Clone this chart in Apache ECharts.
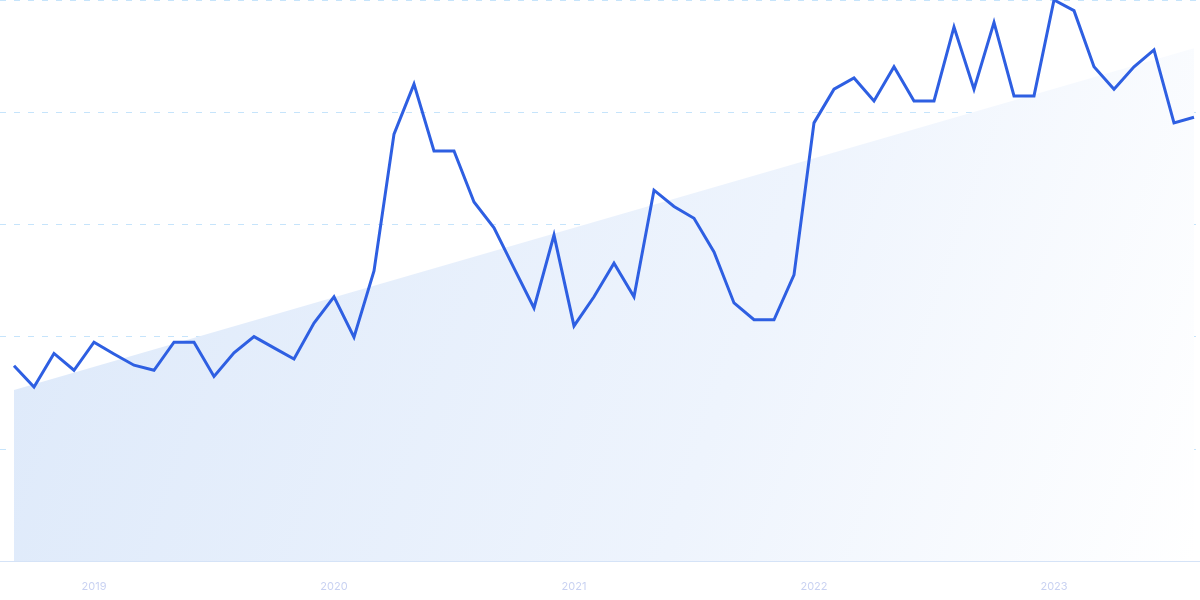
<!DOCTYPE html>
<html>
<head>
<meta charset="utf-8">
<script src="https://cdn.jsdelivr.net/npm/echarts@6/dist/echarts.min.js"></script>
<style>
html,body{margin:0;padding:0;background:#fff;}
#chart{width:1200px;height:600px;}
</style>
</head>
<body>
<div id="chart"></div>
<script>
// Monthly index values, Sep 2018 .. Aug 2023
const values = [
  34.8, 31.0, 37.0, 34.0, 39.0, 36.9, 34.9, 34.0, 39.0, 39.0,
  32.9, 37.1, 40.0, 38.0, 36.0, 42.4, 47.1, 39.9, 51.7, 76.1,
  85.0, 73.1, 73.1, 64.0, 59.4, 52.2, 45.1, 58.1, 41.9, 47.1,
  53.1, 47.1, 66.1, 63.2, 61.1, 55.1, 46.0, 43.0, 43.0, 51.0,
  78.1, 84.1, 86.1, 82.0, 88.1, 82.0, 82.0, 95.2, 84.1, 96.0,
  82.9, 82.9, 100.0, 98.1, 88.1, 84.1, 88.1, 91.1, 78.1, 79.1
];
// Trend line endpoints (first and last month)
const trendValues = [30.5, 91.4];
// Year tick labels and their month index
const yearLabels = ['2019', '2020', '2021', '2022', '2023'];
const yearIndex = [4, 16, 28, 40, 52];

const lineData = values.map((v, i) => [i, v]);
const trendData = [[0, trendValues[0]], [values.length - 1, trendValues[1]]];

const chart = echarts.init(document.getElementById('chart'), null, {renderer: 'canvas'});
chart.setOption({
  animation: false,
  backgroundColor: '#ffffff',
  grid: {left: 0, right: 0, top: 0, bottom: 39, containLabel: false},
  xAxis: {
    type: 'value',
    min: -0.7,
    max: 59.3,
    axisLine: {show: true, lineStyle: {color: '#d5e3f7', width: 1}},
    axisTick: {show: false},
    splitLine: {show: false},
    axisLabel: {
      customValues: yearIndex,
      formatter: function (v) {
        const k = yearIndex.indexOf(Math.round(v));
        return k >= 0 ? yearLabels[k] : '';
      },
      color: '#c9d2f2',
      fontSize: 11,
      fontFamily: 'Inter, sans-serif',
      margin: 20
    }
  },
  yAxis: {
    type: 'value',
    min: 0,
    max: 100,
    interval: 20,
    axisLine: {show: false},
    axisTick: {show: false},
    axisLabel: {show: false},
    splitLine: {show: true, lineStyle: {color: '#c6e4fb', type: [6, 8], width: 1}}
  },
  series: [
    {
      type: 'line',
      data: trendData,
      showSymbol: false,
      silent: true,
      lineStyle: {width: 0, opacity: 0},
      areaStyle: {
        opacity: 1,
        color: new echarts.graphic.LinearGradient(0, 0.2, 1, 1, [
          {offset: 0, color: '#dde9fa'},
          {offset: 0.6, color: '#eef4fd'},
          {offset: 1, color: '#ffffff'}
        ])
      },
      z: 1
    },
    {
      type: 'line',
      data: lineData,
      showSymbol: false,
      lineStyle: {color: '#2e5fe2', width: 3, join: 'miter'},
      z: 3
    }
  ]
});
</script>
</body>
</html>
